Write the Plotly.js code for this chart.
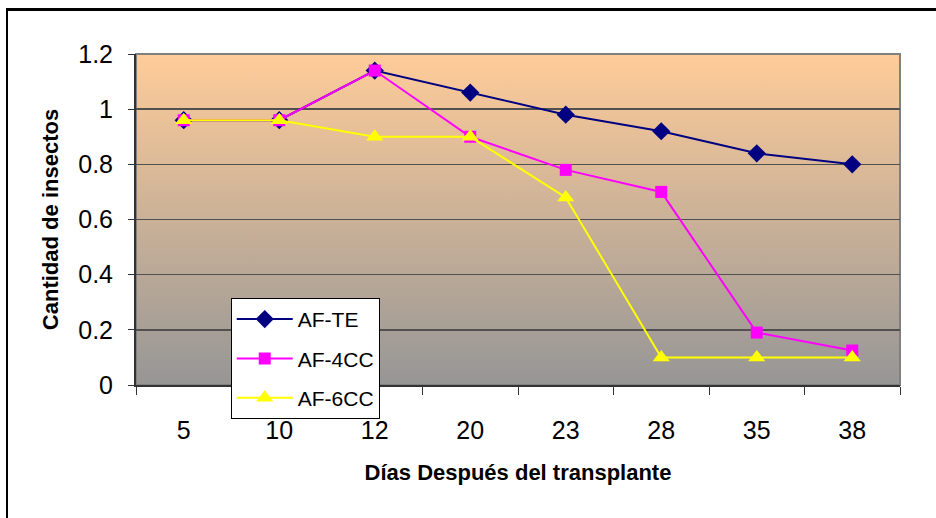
<!DOCTYPE html>
<html>
<head>
<meta charset="utf-8">
<script src="https://cdn.plot.ly/plotly-3.0.1.min.js"></script>
<style>
  html, body { margin: 0; padding: 0; background: #fff; overflow: hidden; }
  #wrap { position: relative; width: 936px; height: 518px; }
  #chart { position: absolute; left: 0; top: 0; width: 936px; height: 518px; }
  #frame { position: absolute; left: 6px; top: 8px; width: 960px; height: 540px;
           border-top: 3px solid #000; border-left: 2px solid #000; pointer-events: none; }
</style>
</head>
<body>
<div id="wrap">
  <div id="chart"></div>
  <div id="frame"></div>
</div>
<script>
const days = ['5', '10', '12', '20', '23', '28', '35', '38'];
const afTE  = [0.96, 0.96, 1.14, 1.06, 0.98, 0.92, 0.84, 0.80];
const af4CC = [0.96, 0.96, 1.14, 0.90, 0.78, 0.70, 0.19, 0.125];
const af6CC = [0.96, 0.96, 0.90, 0.90, 0.68, 0.10, 0.10, 0.10];
const seriesNames = ['AF-TE', 'AF-4CC', 'AF-6CC'];
const yTicks = [0, 0.2, 0.4, 0.6, 0.8, 1, 1.2];
const yTickText = ['0', '0.2', '0.4', '0.6', '0.8', '1', '1.2'];

const gradSvg = '<svg xmlns="http://www.w3.org/2000/svg" width="10" height="100" preserveAspectRatio="none">' +
  '<defs><linearGradient id="g" x1="0" y1="0" x2="0" y2="1">' +
  '<stop offset="0" stop-color="#FFCC99"/><stop offset="1" stop-color="#969696"/>' +
  '</linearGradient></defs><rect width="10" height="100" fill="url(#g)"/></svg>';
const gradUri = 'data:image/svg+xml;base64,' + btoa(gradSvg);

const FONT = 'Liberation Sans, Arial, sans-serif';

const traces = [
  { x: days, y: afTE, name: seriesNames[0], legendgroup: 'a', type: 'scatter', mode: 'lines+markers',
    line: { color: '#000080', width: 2 }, marker: { symbol: 'diamond', size: 14, color: '#000080' } },
  { x: days, y: af4CC, name: seriesNames[1], legendgroup: 'b', type: 'scatter', mode: 'lines+markers',
    line: { color: '#FF00FF', width: 2 }, marker: { symbol: 'square', size: 12, color: '#FF00FF' } },
  { x: days, y: af6CC, name: seriesNames[2], legendgroup: 'c', type: 'scatter', mode: 'lines+markers',
    line: { color: '#FFFF00', width: 2 }, marker: { symbol: 'triangle-up', size: 15, color: '#FFFF00' } }
];

const layout = {
  width: 936, height: 518,
  margin: { l: 136, r: 36, t: 54, b: 133, pad: 0 },
  paper_bgcolor: '#ffffff',
  plot_bgcolor: 'rgba(0,0,0,0)',
  font: { family: FONT, color: '#000' },
  showlegend: true,
  legend: {
    x: 0.124, y: 0.263, xanchor: 'left', yanchor: 'top',
    bgcolor: '#ffffff', bordercolor: '#000000', borderwidth: 1,
    font: { family: FONT, size: 21, color: '#000' },
    tracegroupgap: 9, itemwidth: 56
  },
  xaxis: {
    type: 'category', categoryorder: 'array', categoryarray: days,
    showgrid: false, zeroline: false,
    showline: true, linecolor: '#333333', linewidth: 2,
    ticks: 'outside', tickson: 'boundaries', ticklen: 8, tickcolor: '#333333', tickwidth: 1,
    ticklabelstandoff: 22,
    tickfont: { family: FONT, size: 25, color: '#000' },
    title: { text: 'Días Después del transplante', standoff: 22,
             font: { family: FONT, size: 22, color: '#000', weight: 'bold' } },
    range: [-0.5, 7.5], fixedrange: true
  },
  yaxis: {
    range: [0, 1.2], tickvals: yTicks, ticktext: yTickText,
    showgrid: true, gridcolor: '#505050', gridwidth: 1.5,
    zeroline: false,
    showline: true, linecolor: '#333333', linewidth: 2,
    ticks: 'outside', ticklen: 6, tickcolor: '#333333', tickwidth: 1,
    ticklabelstandoff: 10,
    tickfont: { family: FONT, size: 25, color: '#000' },
    title: { text: 'Cantidad de insectos', standoff: 14,
             font: { family: FONT, size: 22, color: '#000', weight: 'bold' } },
    fixedrange: true
  },
  images: [{
    source: gradUri, xref: 'paper', yref: 'paper', x: 0, y: 1, sizex: 1, sizey: 1,
    xanchor: 'left', yanchor: 'top', sizing: 'stretch', layer: 'below'
  }],
  shapes: [{
    type: 'rect', xref: 'paper', yref: 'paper', x0: 0, x1: 1, y0: 0, y1: 1,
    line: { color: '#808080', width: 2 }, layer: 'below'
  }]
};

Plotly.newPlot('chart', traces, layout, { staticPlot: true, displayModeBar: false });
</script>
</body>
</html>
